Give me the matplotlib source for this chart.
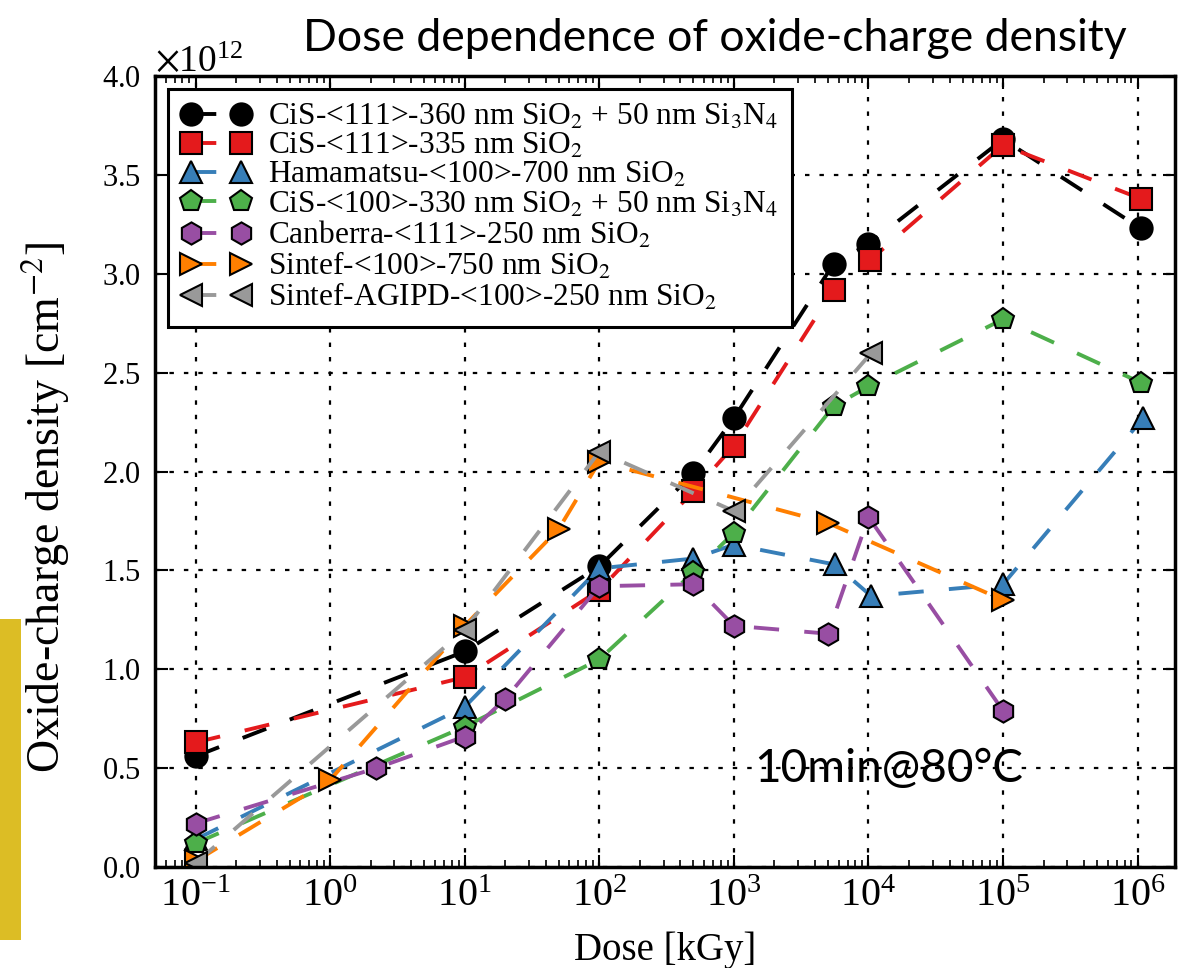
import matplotlib
matplotlib.use("Agg")
import matplotlib.pyplot as plt
from matplotlib.patches import Rectangle
from matplotlib.ticker import ScalarFormatter, LogLocator, MultipleLocator, NullFormatter

# ── Style ─────────────────────────────────────────────────────────────────────
plt.rcParams.update({
    "font.family":      "serif",
    "font.serif":       ["Liberation Serif", "DejaVu Serif"],
    "mathtext.fontset": "stix",
    "axes.linewidth":   2.5,
})

SANS = "Lato"

# ── Data (dose in kGy, oxide-charge density in 1e12 cm^-2) ────────────────────
dose_cis111_nit = [0.1, 10, 100, 500, 1000, 5500, 1.0e4, 1e5, 1.05e6]
nox_cis111_nit  = [0.56, 1.09, 1.52, 1.99, 2.27, 3.05, 3.15, 3.68, 3.23]

dose_cis111 = [0.1, 10, 100, 500, 1000, 5500, 1.03e4, 1e5, 1.05e6]
nox_cis111  = [0.63, 0.96, 1.40, 1.90, 2.13, 2.92, 3.07, 3.65, 3.38]

dose_hama = [0.1, 10, 100, 500, 1000, 5600, 1.05e4, 1e5, 1.1e6]
nox_hama  = [0.14, 0.81, 1.51, 1.56, 1.63, 1.53, 1.37, 1.43, 2.27]

dose_cis100_nit = [0.1, 10, 100, 500, 1000, 5500, 1.0e4, 1e5, 1.05e6]
nox_cis100_nit  = [0.12, 0.71, 1.05, 1.49, 1.69, 2.33, 2.43, 2.77, 2.45]

dose_canberra = [0.1, 2.2, 10, 20, 100, 500, 1000, 5000, 1e4, 1e5]
nox_canberra  = [0.22, 0.50, 0.66, 0.85, 1.42, 1.43, 1.22, 1.18, 1.77, 0.79]

dose_sintef = [0.1, 1, 10, 50, 100, 5000, 1e5]
nox_sintef  = [0.03, 0.44, 1.22, 1.71, 2.05, 1.74, 1.35]

dose_agipd = [0.1, 10, 100, 1000, 1.05e4]
nox_agipd  = [0.02, 1.20, 2.10, 1.80, 2.60]

SERIES = [
    (dose_cis111_nit, nox_cis111_nit, "o", "black",
     r"CiS-<111>-360 nm SiO$_2$ + 50 nm Si$_3$N$_4$"),
    (dose_cis111, nox_cis111, "s", "#e41a1c",
     r"CiS-<111>-335 nm SiO$_2$"),
    (dose_hama, nox_hama, "^", "#377eb8",
     r"Hamamatsu-<100>-700 nm SiO$_2$"),
    (dose_cis100_nit, nox_cis100_nit, "p", "#4daf4a",
     r"CiS-<100>-330 nm SiO$_2$ + 50 nm Si$_3$N$_4$"),
    (dose_canberra, nox_canberra, "h", "#984ea3",
     r"Canberra-<111>-250 nm SiO$_2$"),
    (dose_sintef, nox_sintef, ">", "#ff7f00",
     r"Sintef-<100>-750 nm SiO$_2$"),
    (dose_agipd, nox_agipd, "<", "#999999",
     r"Sintef-AGIPD-<100>-250 nm SiO$_2$"),
]

# ── Figure ────────────────────────────────────────────────────────────────────
fig = plt.figure(figsize=(11.78, 9.68), dpi=100)
ax = fig.add_axes([0.1316, 0.1043, 0.866, 0.8172])

for dose, nox, marker, colour, label in SERIES:
    ax.plot(dose, [v * 1e12 for v in nox], linestyle="--", dashes=(6.5, 6.5),
            lw=2.8, color=colour, marker=marker, markersize=16,
            markerfacecolor=colour, markeredgecolor="black",
            markeredgewidth=1.5, label=label)

ax.set_xscale("log")
ax.set_xlim(0.05, 1.9e6)
ax.set_ylim(0, 4e12)

ax.xaxis.set_major_locator(LogLocator(base=10, numticks=20))
ax.xaxis.set_minor_locator(LogLocator(base=10, subs=range(2, 10), numticks=100))
ax.xaxis.set_minor_formatter(NullFormatter())
ax.yaxis.set_major_locator(MultipleLocator(0.5e12))
fmt = ScalarFormatter(useMathText=True)
ax.yaxis.set_major_formatter(fmt)
ax.yaxis.offsetText.set_fontsize(27)

ax.tick_params(which="both", direction="in", top=True, right=True, pad=10)
ax.tick_params(axis="y", labelsize=22)
ax.tick_params(axis="x", labelsize=29, pad=8)
ax.tick_params(which="major", length=9, width=1.5)
ax.tick_params(which="minor", length=5, width=1.2)

ax.grid(True, which="major", color="black", linestyle=(0, (2, 4.5)), lw=1.6)

ax.set_xlabel("Dose [kGy]", fontsize=28, labelpad=12)
ax.set_ylabel(r"Oxide-charge density [cm$^{-2}$]", fontsize=33)
ax.yaxis.set_label_coords(-0.081, 0.455)

leg = ax.legend(loc="upper left", numpoints=2, fontsize=22.6, handlelength=2.2,
                handletextpad=0.55, borderpad=0.45, labelspacing=0.0,
                borderaxespad=0.4, fancybox=False, framealpha=1)
leg.get_frame().set_edgecolor("black")
leg.get_frame().set_linewidth(2.2)

ax.text(0.719, 0.124, "10min@80°C", transform=ax.transAxes, ha="center",
        va="center", fontsize=33, family=SANS)

fig.text(0.607, 0.96, "Dose dependence of oxide-charge density",
         ha="center", va="center", fontsize=32, family=SANS)

# gold slide accent on the left edge
fig.patches.append(Rectangle((0, 0.029), 0.018, 0.332, transform=fig.transFigure,
                             facecolor="#dcbd25", edgecolor="none"))

fig.savefig("out.png", dpi=100)
